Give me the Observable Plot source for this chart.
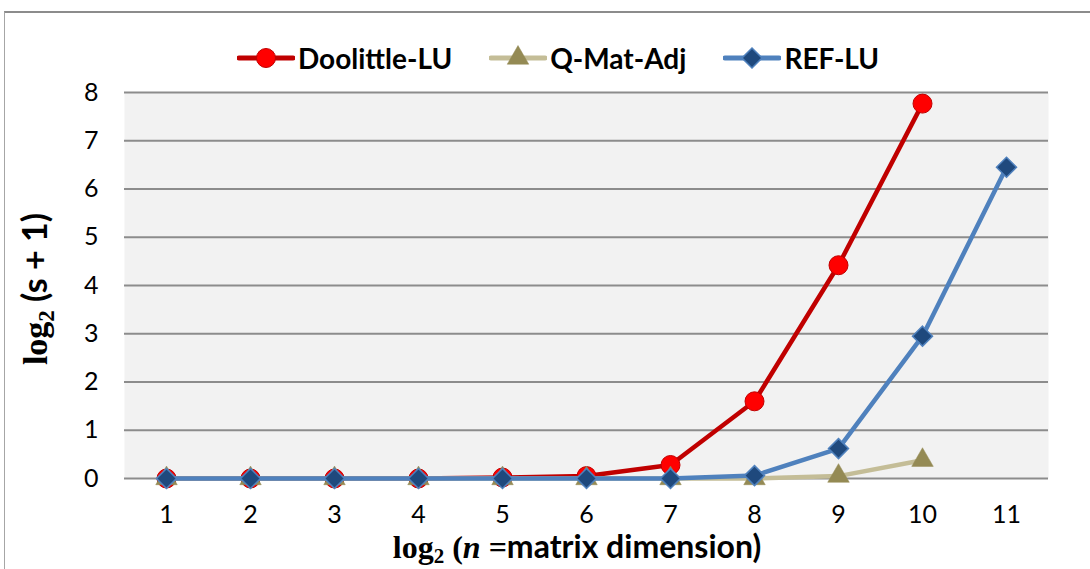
<!DOCTYPE html>
<html><head><meta charset="utf-8">
<script src="https://cdn.jsdelivr.net/npm/d3@7"></script>
<script src="https://cdn.jsdelivr.net/npm/@observablehq/plot@0.6"></script>
<style>
body{margin:0;background:#fff;}
#wrap{position:relative;width:1090px;height:569px;overflow:hidden;font-family:Lato,"Open Sans",sans-serif;}
#border{position:absolute;left:4px;top:11px;width:1100px;height:600px;border-top:2px solid #8c8c8c;border-left:1px solid #a6a6a6;}
#legend{position:absolute;top:41px;left:237px;display:flex;align-items:center;white-space:nowrap;}
.item{display:flex;align-items:center;margin-right:37px;font-weight:bold;font-size:28px;line-height:34px;color:#000;}
.item svg{margin-right:3px;}
#chart{position:absolute;left:0;top:80px;}
#chart svg g[aria-label="y-axis tick label"] text,
#chart svg g[aria-label="x-axis tick label"] text{font-size:25px;font-family:Lato,sans-serif;fill:#000;}
</style></head>
<body><div id="wrap"><div id="border"></div><div id="legend"></div><div id="chart"></div></div>
<script>
const xValues = [1,2,3,4,5,6,7,8,9,10,11];
const seriesNames = ["Doolittle-LU","Q-Mat-Adj","REF-LU"];
const doolittle = [0,0,0,0,0.02,0.05,0.28,1.6,4.42,7.77];
const qmatadj = [0,0,0,0,0,0,0,0,0.05,0.38];
const reflu = [0,0,0,0,0,0,0,0.06,0.62,2.95,6.45];
const yTicks = [0,1,2,3,4,5,6,7,8];

const styles = {
  "Doolittle-LU": {line:"#c00000", fill:"#ff0000", stroke:"#c00000", symbol:"circle", r:9.5, sw:1},
  "Q-Mat-Adj": {line:"#c4bd97", fill:"#948a54", stroke:"#948a54", symbol:"triangle", r:8, sw:0.5},
  "REF-LU": {line:"#4f81bd", fill:"#1f497d", stroke:"#4f81bd", symbol:"diamond2", r:9, sw:1.5}
};
const valuesBy = {"Doolittle-LU":doolittle,"Q-Mat-Adj":qmatadj,"REF-LU":reflu};
const rows = name => valuesBy[name].map((v,i)=>({series:name,x:xValues[i],y:v}));

const marks = [
  Plot.frame({fill:"#f2f2f2", stroke:null}),
  Plot.gridY(yTicks,{stroke:"#8c8c8c", strokeOpacity:1, strokeWidth:2}),
  Plot.axisY(yTicks,{tickSize:0, tickPadding:26, fontSize:25, fill:"#000"}),
  Plot.axisX(xValues,{tickSize:0, tickPadding:27, fontSize:25, fill:"#000"})
];
for (const name of seriesNames) {
  const s = styles[name];
  marks.push(Plot.line(rows(name),{x:"x", y:"y", stroke:s.line, strokeWidth:4.5, strokeLinejoin:"round"}));
  marks.push(Plot.dot(rows(name),{x:"x", y:"y", symbol:s.symbol, r:s.r, fill:s.fill, stroke:s.stroke, strokeWidth:s.sw}));
}

const plot = Plot.plot({
  width:1090, height:489,
  marginTop:12, marginBottom:91, marginLeft:124, marginRight:42,
  x:{domain:[0.5,11.5], label:null},
  y:{domain:[0,8], label:null},
  style:{background:"transparent", overflow:"visible", fontSize:"25px", fontFamily:"Lato, sans-serif"},
  marks
});
document.getElementById("chart").appendChild(plot);

// axis titles with mixed fonts
const svg = d3.select(plot);
const yt = svg.append("text")
  .attr("transform","translate(47,209) rotate(-90)")
  .attr("text-anchor","middle")
  .attr("font-weight","bold").attr("font-size",34).attr("fill","#000");
yt.append("tspan").attr("font-family","Liberation Serif, serif").text("log");
yt.append("tspan").attr("font-family","Liberation Serif, serif").attr("font-size",23).attr("dy",7).text("2");
yt.append("tspan").attr("font-family","Lato, sans-serif").attr("dy",-7).text(" (s + 1)");

const xt = svg.append("text")
  .attr("transform","translate(577,478)")
  .attr("text-anchor","middle")
  .attr("font-weight","bold").attr("font-size",32).attr("fill","#000");
xt.append("tspan").attr("font-family","Liberation Serif, serif").text("log");
xt.append("tspan").attr("font-family","Liberation Serif, serif").attr("font-size",21).attr("dy",5).text("2");
xt.append("tspan").attr("font-family","Liberation Serif, serif").attr("dy",-5).text(" (");
xt.append("tspan").attr("font-family","Liberation Serif, serif").attr("font-style","italic").text("n");
xt.append("tspan").attr("font-family","Liberation Serif, serif").text(" =");
xt.append("tspan").attr("font-family","Lato, sans-serif").text("matrix dimension)");

// legend
const legend = d3.select("#legend");
for (const name of seriesNames) {
  const s = styles[name];
  const item = legend.append("div").attr("class","item");
  const sw = item.append("svg").attr("width",58).attr("height",26);
  sw.append("line").attr("x1",2).attr("x2",56).attr("y1",13).attr("y2",13)
    .attr("stroke",s.line).attr("stroke-width",5).attr("stroke-linecap","round");
  const sym = {circle:d3.symbolCircle, triangle:d3.symbolTriangle, diamond2:d3.symbolDiamond2}[s.symbol];
  sw.append("path").attr("transform","translate(29,13)")
    .attr("d", d3.symbol(sym, Math.PI*s.r*s.r)())
    .attr("fill",s.fill).attr("stroke",s.stroke).attr("stroke-width",s.sw);
  item.append("span").text(name);
}
</script></body></html>
